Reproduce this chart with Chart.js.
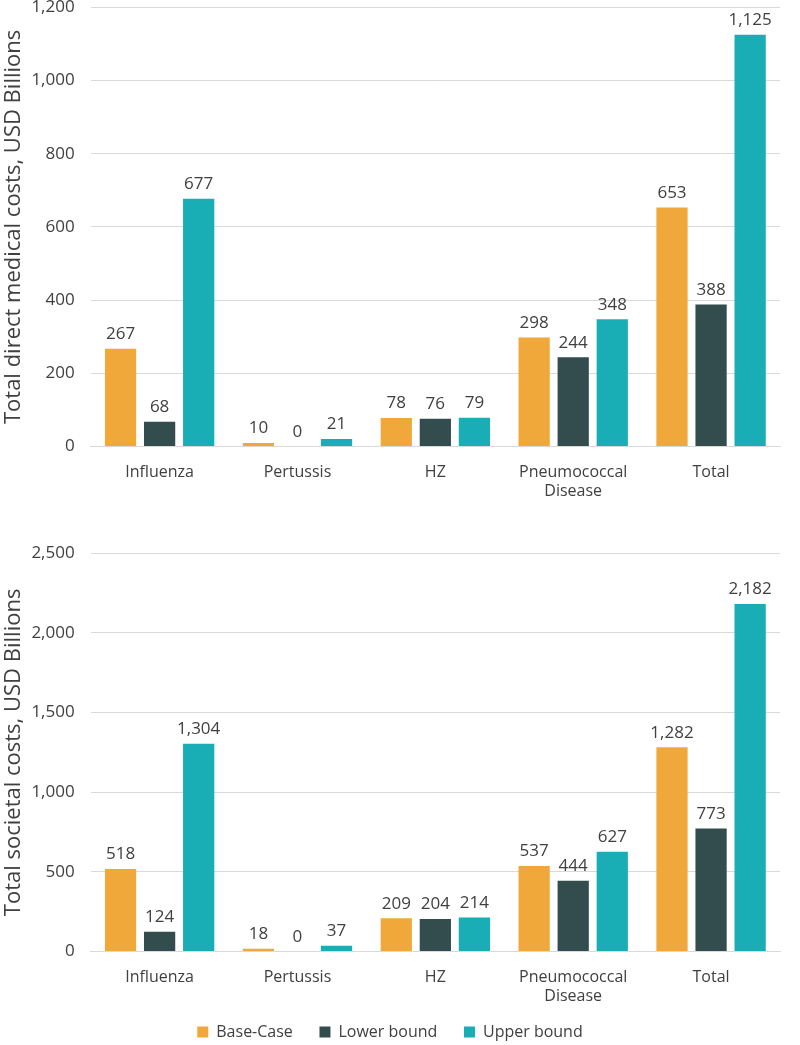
<!DOCTYPE html>
<html>
<head>
<meta charset="utf-8">
<script src="https://cdn.jsdelivr.net/npm/chart.js@4"></script>
<style>
  body { margin: 0; background: #fff; font-family: "Open Sans", sans-serif; overflow: hidden; }
  .box { position: absolute; left: 0; width: 800px; }
</style>
</head>
<body>
<div class="box" style="top:-19px; height:533px"><canvas id="medicalChart"></canvas></div>
<div class="box" style="top:527px; height:523px"><canvas id="societalChart"></canvas></div>
<script>
  // Values
  const categories = ['Influenza', 'Pertussis', 'HZ', ['Pneumococcal', 'Disease'], 'Total'];
  const seriesNames = ['Base-Case', 'Lower bound', 'Upper bound'];
  const seriesColors = ['#F0A83A', '#334D4E', '#19AEB6'];

  const medicalBase = [267, 10, 78, 298, 653];
  const medicalLower = [68, 0, 76, 244, 388];
  const medicalUpper = [677, 21, 79, 348, 1125];

  const societalBase = [518, 18, 209, 537, 1282];
  const societalLower = [124, 0, 204, 444, 773];
  const societalUpper = [1304, 37, 214, 627, 2182];

  // draws the value above each bar
  const valueLabels = {
    id: 'valueLabels',
    afterDatasetsDraw(chart) {
      const ctx = chart.ctx;
      ctx.save();
      ctx.font = '17px "Open Sans"';
      ctx.fillStyle = '#404040';
      ctx.textAlign = 'center';
      ctx.textBaseline = 'bottom';
      chart.data.datasets.forEach((ds, i) => {
        chart.getDatasetMeta(i).data.forEach((bar, j) => {
          ctx.fillText(ds.data[j].toLocaleString('en-US'), bar.x, bar.y - 6);
        });
      });
      ctx.restore();
    }
  };

  function makeChart(id, data, max, step, title, showLegend, pad) {
    return new Chart(document.getElementById(id), {
      type: 'bar',
      data: {
        labels: categories,
        datasets: data.map((d, i) => ({
          label: seriesNames[i],
          data: d,
          backgroundColor: seriesColors[i],
          categoryPercentage: 0.85,
          barPercentage: 0.8
        }))
      },
      options: {
        responsive: true,
        maintainAspectRatio: false,
        animation: false,
        layout: { padding: pad },
        plugins: {
          legend: {
            display: showLegend,
            position: 'bottom',
            labels: {
              boxWidth: 11, boxHeight: 11, padding: 10,
              color: '#404040',
              font: { family: 'Open Sans', size: 16 },
              // extra spaces widen the gap between entries
              generateLabels(chart) {
                const items = Chart.defaults.plugins.legend.labels.generateLabels(chart);
                items.forEach((it, i) => {
                  if (i < items.length - 1) it.text += '    ';
                });
                return items;
              }
            }
          },
          tooltip: { enabled: false }
        },
        scales: {
          x: {
            grid: { display: false },
            border: { color: '#d9d9d9' },
            ticks: { color: '#404040', padding: 8, font: { family: 'Open Sans', size: 16 }, maxRotation: 0 }
          },
          y: {
            min: 0, max: max,
            ticks: {
              stepSize: step, padding: 16,
              color: '#404040',
              font: { family: 'Open Sans', size: 17 },
              callback: v => v.toLocaleString('en-US')
            },
            grid: { color: '#d9d9d9', drawTicks: false },
            border: { display: false },
            title: {
              display: true, text: title,
              color: '#404040',
              font: { family: 'Open Sans', size: 22 },
              padding: { top: 1, bottom: -12 }
            }
          }
        }
      },
      plugins: [valueLabels]
    });
  }

  makeChart('medicalChart', [medicalBase, medicalLower, medicalUpper], 1200, 200,
    'Total direct medical costs, USD Billions', false, { top: 0, right: 20, bottom: 5 });
  makeChart('societalChart', [societalBase, societalLower, societalUpper], 2500, 500,
    'Total societal costs, USD Billions', true, { top: 0, right: 20, bottom: 0 });
</script>
</body>
</html>
